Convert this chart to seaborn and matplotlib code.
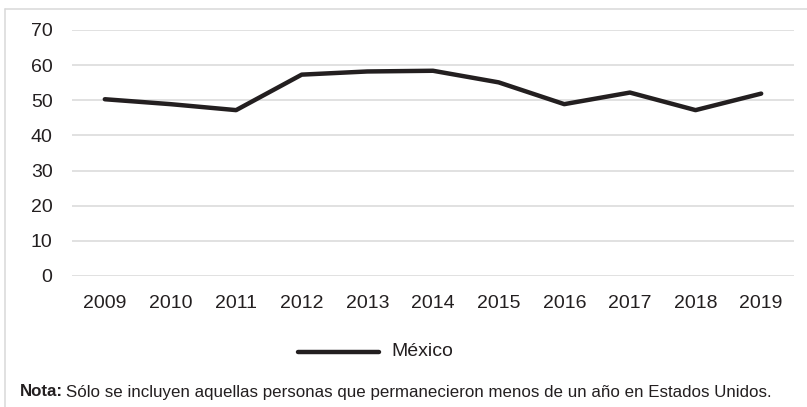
import matplotlib
matplotlib.use('Agg')
import matplotlib.pyplot as plt
import pandas as pd
import seaborn as sns
from matplotlib.lines import Line2D

# data
years = ['2009', '2010', '2011', '2012', '2013', '2014',
         '2015', '2016', '2017', '2018', '2019']
mexico = [50.3, 48.9, 47.2, 57.3, 58.2, 58.4, 55.1, 48.9, 52.2, 47.2, 51.9]
y_ticks = [0, 10, 20, 30, 40, 50, 60, 70]
series_name = 'México'
note_bold = 'Nota:'
note_text = 'Sólo se incluyen aquellas personas que permanecieron menos de un año en Estados Unidos.'

LINE_COLOR = '#231f20'
GRID_COLOR = '#d9d9d9'
W, H = 807, 407

sns.set_style('white')
plt.rcParams['font.family'] = ['Liberation Sans', 'DejaVu Sans']

df = pd.DataFrame({'year': years, 'value': mexico})

fig = plt.figure(figsize=(W / 100, H / 100), dpi=100)
ax = fig.add_axes([72 / W, 1 - 276 / H, (794 - 72) / W, (276 - 30) / H])

sns.lineplot(x='year', y='value', data=df, ax=ax, color=LINE_COLOR,
             linewidth=3.2, sort=False, legend=False)

ax.set_xlim(-0.5, len(years) - 0.5)
ax.set_ylim(0, 70)
ax.set_yticks(y_ticks)
ax.yaxis.grid(True, color=GRID_COLOR, linewidth=1.1)
ax.xaxis.grid(False)
for side in ['top', 'right', 'left', 'bottom']:
    ax.spines[side].set_visible(False)
ax.tick_params(axis='both', length=0, labelsize=14, colors='#231f20')
ax.tick_params(axis='y', pad=14)
ax.tick_params(axis='x', pad=14)
ax.set_xlabel('')
ax.set_ylabel('')

# outer frame (only top and left visible)
fig.add_artist(Line2D([5 / W, 1], [1 - 9 / H] * 2, color=GRID_COLOR,
                      linewidth=1.1, transform=fig.transFigure))
fig.add_artist(Line2D([5 / W] * 2, [0, 1 - 9 / H], color=GRID_COLOR,
                      linewidth=1.1, transform=fig.transFigure))

# legend
fig.add_artist(Line2D([298 / W, 379 / W], [1 - 352 / H] * 2,
                      color=LINE_COLOR, linewidth=3.2,
                      transform=fig.transFigure))
fig.text(391 / W, 1 - 352 / H, series_name, fontsize=14,
         color='#231f20', va='center', ha='left')

# note
t = fig.text(20 / W, 1 - 392 / H, note_bold, fontsize=12.2,
             fontweight='bold', color='#231f20', va='center', ha='left')
fig.canvas.draw()
bb = t.get_window_extent()
fig.text((bb.x1 + 3) / W, 1 - 392 / H, note_text, fontsize=12.2,
         color='#231f20', va='center', ha='left')

fig.savefig('out.png', dpi=100)
